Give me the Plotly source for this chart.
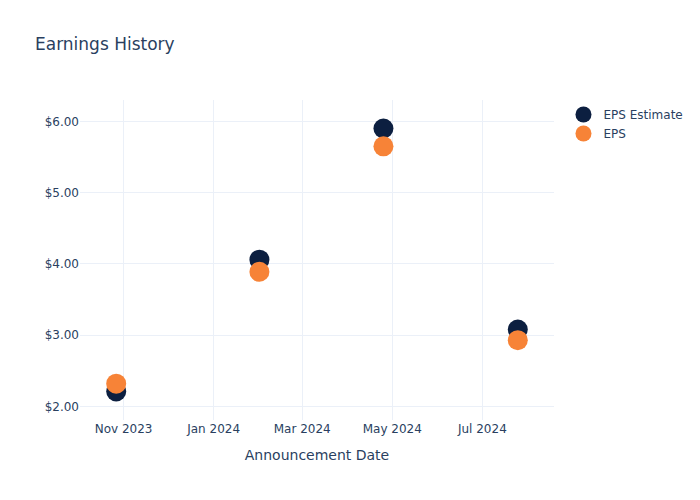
import plotly.graph_objects as go

dates = ["2023-10-27", "2024-02-01", "2024-04-25", "2024-07-25"]
eps_estimate = [2.21, 4.06, 5.90, 3.08]
eps_actual = [2.32, 3.89, 5.65, 2.93]

fig = go.Figure()
fig.add_trace(go.Scatter(x=dates, y=eps_estimate, mode="markers", name="EPS Estimate",
                         marker=dict(color="#0c1f40", size=20)))
fig.add_trace(go.Scatter(x=dates, y=eps_actual, mode="markers", name="EPS",
                         marker=dict(color="#f78337", size=20)))
fig.update_layout(
    template="plotly_white",
    width=700, height=500,
    font=dict(family="DejaVu Sans"),
    title=dict(text="Earnings History"),
    xaxis=dict(title=dict(text="Announcement Date")),
    yaxis=dict(tickformat="$.2f", dtick=1),
)
fig.write_html("out.html")
